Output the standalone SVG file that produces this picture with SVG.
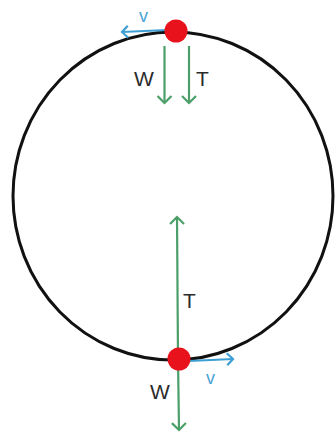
<svg xmlns="http://www.w3.org/2000/svg" width="335" height="434" viewBox="0 0 335 434">
<defs>
<style>
.lbl{font-family:"Liberation Sans",Arial,sans-serif;font-size:21px;fill:#2b2b2b}
.vl{font-family:"Liberation Sans",Arial,sans-serif;font-size:18px;fill:#4aa3d6}
.force{stroke:#4c9f68;stroke-width:2.2;fill:none}
.vel{stroke:#3d9fd3;stroke-width:2.2;fill:none}
.ball{fill:#e8121c}
</style>
<marker id="ag" markerUnits="userSpaceOnUse" markerWidth="16" markerHeight="16" refX="10" refY="8" orient="auto">
<path d="M3,1 L10,8 L3,15" fill="none" stroke="#4c9f68" stroke-width="2.2"/>
</marker>
<marker id="ab" markerUnits="userSpaceOnUse" markerWidth="16" markerHeight="16" refX="10" refY="8" orient="auto">
<path d="M4,2 L10,8 L4,14" fill="none" stroke="#3d9fd3" stroke-width="2.2"/>
</marker>
</defs>
<rect width="335" height="434" fill="#fff"/>
<g id="circle">
<ellipse cx="173" cy="196" rx="160" ry="164" fill="none" stroke="#111" stroke-width="3"/>
</g>
<g id="connectors">
<path class="vel" d="M167,30 L122,32" marker-end="url(#ab)"/>
<path class="force" d="M164.5,46 L164.5,103" marker-end="url(#ag)"/>
<path class="force" d="M189,46 L189,103" marker-end="url(#ag)"/>
<path class="force" d="M178,359 L177,217" marker-end="url(#ag)"/>
<path class="force" d="M178,359 L179,430" marker-end="url(#ag)"/>
<path class="vel" d="M189,361 L233,359" marker-end="url(#ab)"/>
</g>
<g id="top-ball">
<circle class="ball" cx="176" cy="31" r="11.5"/>
</g>
<g id="bottom-ball">
<circle class="ball" cx="179" cy="359" r="11.5"/>
</g>
<g id="labels">
<text class="vl" x="139" y="22">v</text>
<text class="lbl" x="134" y="86">W</text>
<text class="lbl" x="196" y="86">T</text>
<text class="lbl" x="183" y="308">T</text>
<text class="lbl" x="150" y="399">W</text>
<text class="vl" x="206" y="384">v</text>
</g>
</svg>
